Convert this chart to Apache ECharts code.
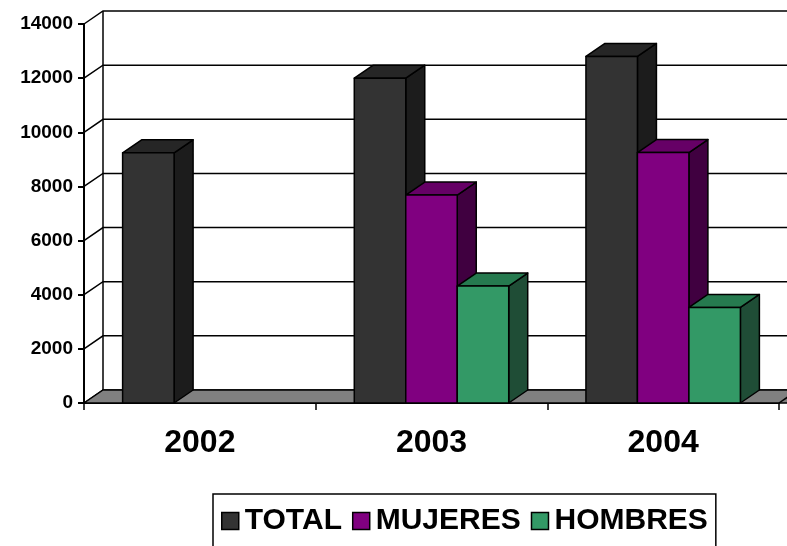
<!DOCTYPE html>
<html><head><meta charset="utf-8">
<script src="https://cdn.jsdelivr.net/npm/echarts@6/dist/echarts.min.js"></script>
<style>html,body{margin:0;padding:0;background:#fff}#c{width:787px;height:546px}</style>
</head><body><div id="c"></div>
<script>
const categories = ['2002', '2003', '2004'];
const seriesNames = ['TOTAL', 'MUJERES', 'HOMBRES'];
const totalValues = [9240, 12000, 12800];
const mujeresValues = [null, 7680, 9250];
const hombresValues = [null, 4320, 3530];
const yTickValues = [0, 2000, 4000, 6000, 8000, 10000, 12000, 14000];

const DX = 19, DY = -13;
const FONT = '"Liberation Sans", Arial, sans-serif';
const palette = {
  TOTAL:   {front: '#333333', top: '#262626', side: '#1c1c1c'},
  MUJERES: {front: '#800080', top: '#660066', side: '#400040'},
  HOMBRES: {front: '#339966', top: '#267a4f', side: '#1f4d36'}
};
const LINE = {stroke: '#000', lineWidth: 1.5, lineJoin: 'round'};

function barRenderer(slot, colors) {
  return function (params, api) {
    const v = api.value(1);
    if (v == null || isNaN(v)) return null;
    const idx = api.value(0);
    const top = api.coord([idx, v]);
    const base = api.coord([idx, 0]);
    const band = api.size([1, 0])[0];
    const bw = band / 4.5;
    const x0 = top[0] - 1.5 * bw + slot * bw;
    const x1 = x0 + bw;
    const yt = top[1], yb = base[1];
    return {type: 'group', children: [
      {type: 'polygon', shape: {points: [[x1, yb], [x1 + DX, yb + DY], [x1 + DX, yt + DY], [x1, yt]]},
       style: Object.assign({fill: colors.side}, LINE)},
      {type: 'polygon', shape: {points: [[x0, yt], [x0 + DX, yt + DY], [x1 + DX, yt + DY], [x1, yt]]},
       style: Object.assign({fill: colors.top}, LINE)},
      {type: 'rect', shape: {x: x0, y: yt, width: bw, height: yb - yt},
       style: Object.assign({fill: colors.front}, LINE)}
    ]};
  };
}

function barSeries(name, values, slot) {
  const c = palette[name];
  return {
    name: name, type: 'custom', clip: false, z: 5,
    itemStyle: {color: c.front, borderColor: '#000', borderWidth: 1.5},
    data: values.map((v, i) => [i, v]),
    renderItem: barRenderer(slot, c)
  };
}

const chart = echarts.init(document.getElementById('c'), null, {renderer: 'canvas'});
chart.setOption({
  animation: false,
  backgroundColor: '#fff',
  grid: {left: 84, right: 8, top: 24, bottom: 143, containLabel: false},
  xAxis: {
    type: 'category', data: categories,
    axisLine: {show: true, lineStyle: {color: '#000', width: 2}},
    axisTick: {show: true, length: 7, lineStyle: {color: '#000', width: 1.5}},
    axisLabel: {fontFamily: FONT, fontWeight: 'bold', fontSize: 32, color: '#000', margin: 24},
    splitLine: {show: false}
  },
  yAxis: {
    type: 'value', min: 0, max: 14000, interval: 2000,
    axisLine: {show: true, lineStyle: {color: '#000', width: 2}},
    axisTick: {show: true, inside: false, length: 6, lineStyle: {color: '#000', width: 2}},
    axisLabel: {fontFamily: FONT, fontWeight: 'bold', fontSize: 19, color: '#000', margin: 11,
                formatter: v => String(v)},
    splitLine: {show: false}
  },
  legend: {
    data: seriesNames, left: 213, top: 494, orient: 'horizontal',
    icon: 'rect', itemWidth: 17, itemHeight: 17, itemGap: 10,
    itemStyle: {borderColor: '#000', borderWidth: 1.5},
    textStyle: {fontFamily: FONT, fontWeight: 'bold', fontSize: 30, color: '#000', padding: [0, 0, 0, 1]},
    borderColor: '#000', borderWidth: 1.5, padding: [12, 8, 20, 8], backgroundColor: '#fff',
    selectedMode: false
  },
  series: [
    {
      name: 'grid3d', type: 'custom', clip: false, silent: true, z: 1,
      data: yTickValues.map(v => [0, v]),
      renderItem: function (params, api) {
        const cs = params.coordSys;
        const y = api.coord([0, api.value(1)])[1];
        const x = cs.x;
        return {type: 'polyline',
          shape: {points: [[x, y], [x + DX, y + DY], [x + cs.width + DX + 20, y + DY]]},
          style: {stroke: '#000', lineWidth: 1.5, fill: null}};
      }
    },
    {
      name: 'walls', type: 'custom', clip: false, silent: true, z: 2,
      data: [[0, 0]],
      renderItem: function (params, api) {
        const cs = params.coordSys;
        const x = cs.x, w = cs.width;
        const y0 = api.coord([0, yTickValues[0]])[1];
        const yMax = api.coord([0, yTickValues[yTickValues.length - 1]])[1];
        return {type: 'group', children: [
          {type: 'line', shape: {x1: x + DX, y1: yMax + DY, x2: x + DX, y2: y0 + DY},
           style: {stroke: '#000', lineWidth: 1.5}},
          {type: 'polygon', shape: {points: [[x, y0], [x + DX, y0 + DY], [x + w + DX + 20, y0 + DY], [x + w + 20, y0]]},
           style: Object.assign({fill: '#808080'}, LINE)},
          {type: 'line', shape: {x1: x + w, y1: y0, x2: x + w + DX, y2: y0 + DY},
           style: {stroke: '#000', lineWidth: 1.5}}
        ]};
      }
    },
    barSeries('TOTAL', totalValues, 0),
    barSeries('MUJERES', mujeresValues, 1),
    barSeries('HOMBRES', hombresValues, 2)
  ]
});
</script>
</body></html>
